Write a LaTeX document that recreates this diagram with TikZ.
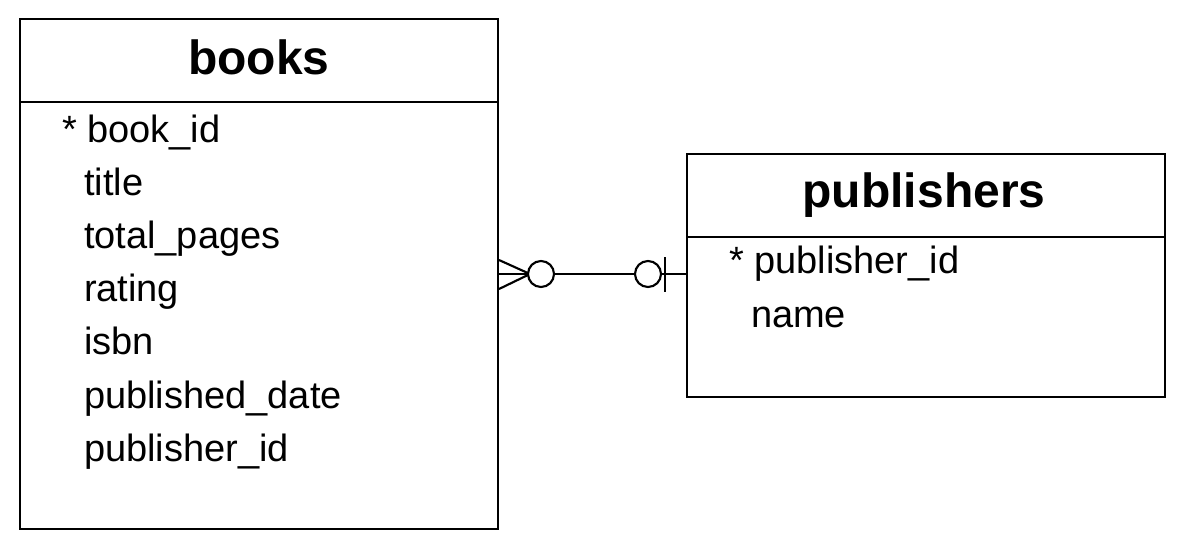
\documentclass[tikz,border=0pt]{standalone}
\usepackage{fontspec}
\setmainfont{Liberation Sans}
\begin{document}
\begin{tikzpicture}[x=0.75pt,y=-0.75pt,line width=1.5pt,
  ent/.style={draw,rectangle,inner sep=0pt,line width=1.5pt},
  ttl/.style={font=\bfseries\fontsize{36}{40}\selectfont,anchor=base,inner sep=0pt},
  att/.style={font=\fontsize{28.5}{34}\selectfont,anchor=base west,inner sep=0pt},
  rel/.style={line width=1.6pt}]
\useasboundingbox (0,0) rectangle (1188,550);
% entities
\node[ent,minimum width=358.5pt,minimum height=382.5pt] (books) at (259,274) {};
\node[ent,minimum width=358.5pt,minimum height=182.25pt] (publishers) at (926,275.5) {};
\draw (books.west |- 0,102) -- (books.east |- 0,102);
\draw (publishers.west |- 0,237) -- (publishers.east |- 0,237);
% titles
\node[ttl] (tb) at (259,74) {books};
\node[ttl] (tp) at (924,207) {publishers};
% books attributes
\node[att] (b1) at (61,142) {* book\_id};
\node[att] (b2) at (83,195.2) {title};
\node[att] (b3) at (83,248.4) {total\_pages};
\node[att] (b4) at (83,301.6) {rating};
\node[att] (b5) at (83,354.8) {isbn};
\node[att] (b6) at (83,408) {published\_date};
\node[att] (b7) at (83,461) {publisher\_id};
% publishers attributes
\node[att] (p1) at (728,273) {* publisher\_id};
\node[att] (p2) at (750,327) {name};
% relationship
\coordinate (bk) at (books.east |- 0,274);
\coordinate (pb) at (publishers.west |- 0,274);
\coordinate (cf) at (530,274);
\coordinate (cb1) at (541,274);
\coordinate (cb2) at (648,274);
\draw[rel] (bk) -- (pb);
\draw[rel] (bk |- 0,260) -- (cf) -- (bk |- 0,289);
\draw[rel,fill=white] (cb1) circle[radius=13];
\draw[rel,fill=white] (cb2) circle[radius=13];
\draw[rel] (665,257) -- (665,292);
\end{tikzpicture}
\end{document}
